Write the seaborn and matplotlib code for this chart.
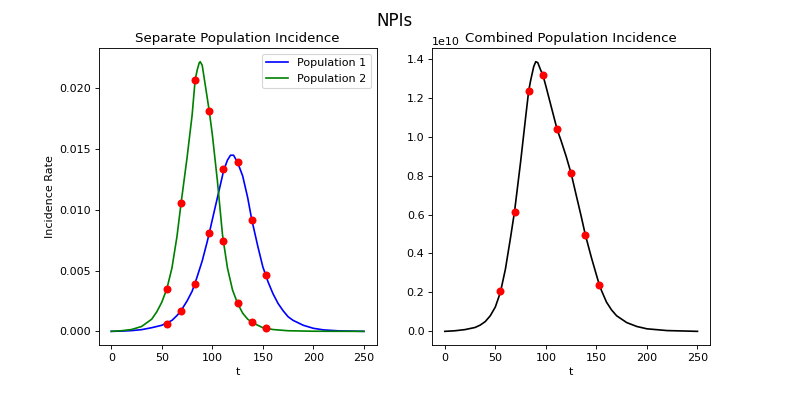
import numpy as np
import pandas as pd
import matplotlib
matplotlib.use("Agg")
import matplotlib.pyplot as plt
import seaborn as sns

# curves
t_pop1 = [0, 10, 20, 30, 40, 50, 55, 60, 65, 69, 75, 80, 83, 85, 90, 95, 97, 100, 105, 110,
          111, 115, 118, 121, 123, 125, 130, 135, 139, 145, 150, 153, 155, 160, 165, 170, 175,
          180, 190, 200, 210, 225, 250]
pop1 = [0.0, 0.00002, 0.00006, 0.00014, 0.0003, 0.0005, 0.0007, 0.0009, 0.0013, 0.0017,
        0.0025, 0.0033, 0.0040, 0.0045, 0.0058, 0.0074, 0.0081, 0.0092, 0.0110, 0.0128,
        0.0132, 0.0141, 0.0145, 0.0145, 0.0142, 0.0139, 0.0128, 0.0110, 0.0092, 0.0070,
        0.0053, 0.0046, 0.0041, 0.0031, 0.0023, 0.0017, 0.0012, 0.0009, 0.0005, 0.00025,
        0.00012, 0.00004, 0.0]

t_pop2 = [0, 10, 20, 30, 40, 45, 50, 55, 60, 65, 69, 75, 80, 83, 85, 87, 88, 90, 95, 97, 100,
          105, 110, 111, 115, 120, 125, 130, 135, 140, 145, 150, 160, 175, 200, 250]
pop2 = [0.0, 0.00005, 0.00015, 0.0004, 0.0010, 0.0016, 0.0024, 0.0035, 0.0052, 0.0078,
        0.0105, 0.0143, 0.0178, 0.0207, 0.0215, 0.0221, 0.0222, 0.0219, 0.0192, 0.0181,
        0.0162, 0.0124, 0.0080, 0.0074, 0.0052, 0.0034, 0.0023, 0.0015, 0.0010, 0.0007,
        0.0005, 0.0003, 0.00015, 0.00005, 0.00001, 0.0]

t_comb = [0, 10, 20, 30, 35, 40, 45, 50, 55, 60, 65, 69, 75, 80, 83, 85, 88, 90, 92, 95, 97, 100,
          105, 110, 111, 115, 120, 125, 130, 135, 139, 145, 150, 153, 155, 160, 165, 170, 180,
          190, 200, 220, 250]
comb = [0.0, 0.003e10, 0.009e10, 0.02e10, 0.032e10, 0.05e10, 0.08e10, 0.125e10, 0.2e10, 0.32e10,
        0.48e10, 0.615e10, 0.87e10, 1.10e10, 1.235e10, 1.29e10, 1.36e10, 1.385e10, 1.38e10,
        1.34e10, 1.317e10, 1.26e10, 1.16e10, 1.06e10, 1.039e10, 0.98e10, 0.90e10, 0.811e10,
        0.70e10, 0.59e10, 0.497e10, 0.38e10, 0.29e10, 0.238e10, 0.21e10, 0.15e10, 0.11e10,
        0.08e10, 0.045e10, 0.025e10, 0.013e10, 0.004e10, 0.0]

# observed points (red dots)
t_obs = [55, 69, 83, 97, 111, 125, 139, 153]
obs_pop1 = [0.0006, 0.00164, 0.0039, 0.0081, 0.0134, 0.0139, 0.0092, 0.0046]
obs_pop2 = [0.0035, 0.0106, 0.0207, 0.0181, 0.0074, 0.0023, 0.0008, 0.0003]
obs_comb = [0.206e10, 0.615e10, 1.233e10, 1.317e10, 1.039e10, 0.811e10, 0.497e10, 0.238e10]

fig, axes = plt.subplots(1, 2, figsize=(789 / 80, 395 / 80), dpi=80)
fig.subplots_adjust(left=0.125, right=0.9, top=0.878, bottom=0.127, wspace=0.2)

# left: separate populations
ax = axes[0]
sns.lineplot(x=t_pop1, y=pop1, color="blue", label="Population 1", ax=ax)
sns.lineplot(x=t_pop2, y=pop2, color="green", label="Population 2", ax=ax)
sns.scatterplot(x=t_obs, y=obs_pop1, color="red", s=52, linewidth=0, ax=ax, zorder=3)
sns.scatterplot(x=t_obs, y=obs_pop2, color="red", s=52, linewidth=0, ax=ax, zorder=3)
ax.set_title("Separate Population Incidence")
ax.set_xlabel("t")
ax.set_ylabel("Incidence Rate")
ax.set_xticks([0, 50, 100, 150, 200, 250])
ax.set_yticks([0.0, 0.005, 0.010, 0.015, 0.020])
ax.legend(loc="upper right")

# right: combined population
ax = axes[1]
sns.lineplot(x=t_comb, y=comb, color="black", ax=ax)
sns.scatterplot(x=t_obs, y=obs_comb, color="red", s=52, linewidth=0, ax=ax, zorder=3)
ax.set_title("Combined Population Incidence")
ax.set_xlabel("t")
ax.set_xticks([0, 50, 100, 150, 200, 250])

fig.suptitle("NPIs", fontsize=15, y=0.97)
plt.savefig("out.png", dpi=80)
